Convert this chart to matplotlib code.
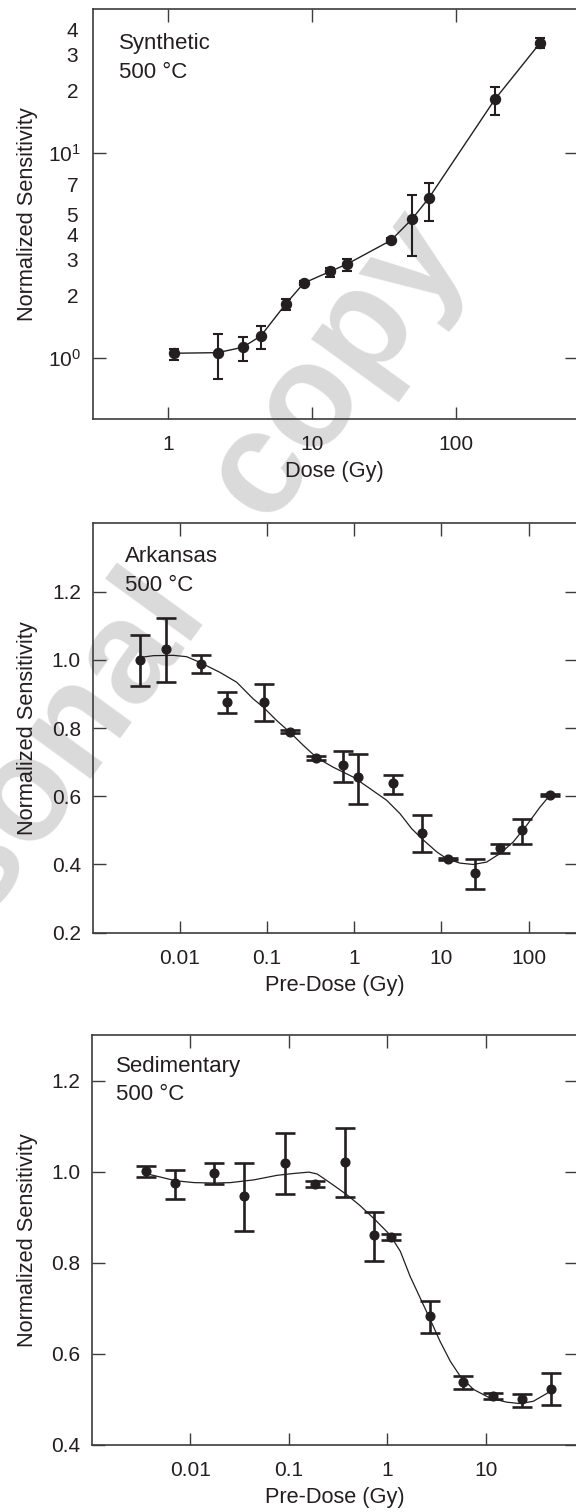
import numpy as np
import matplotlib.pyplot as plt
from matplotlib.ticker import NullLocator

plt.rcParams['font.family'] = ['Liberation Sans', 'DejaVu Sans']
plt.rcParams['mathtext.default'] = 'regular'

INK = '#231f20'
AXC = '#3c3c3c'
W, H = 576, 1512

# Synthetic, 500 C: sensitivity vs dose
syn_dose = [1.11, 2.22, 3.32, 4.43, 6.61, 8.81, 13.4, 17.6, 35.5, 49.6, 65.0, 187.5, 388]
syn_sens = [1.05, 1.057, 1.123, 1.276, 1.83, 2.31, 2.63, 2.86, 3.73, 4.73, 5.99, 18.2, 34.4]
syn_high = [1.098, 1.30, 1.267, 1.43, 1.93, 2.36, 2.73, 3.03, 3.85, 6.18, 7.14, 20.9, 36.2]
syn_low = [0.975, 0.79, 0.967, 1.098, 1.70, 2.26, 2.47, 2.63, 3.62, 3.13, 4.66, 15.2, 32.2]

# Arkansas, 500 C: sensitivity vs pre-dose
ark_dose = [0.00347, 0.00698, 0.0174, 0.035, 0.0925, 0.186, 0.367, 0.74, 1.10, 2.77,
            6.03, 11.9, 24.0, 47.3, 84.8, 177]
ark_sens = [1.000, 1.031, 0.989, 0.877, 0.875, 0.789, 0.712, 0.692, 0.656, 0.638,
            0.493, 0.416, 0.376, 0.449, 0.500, 0.604]
ark_high = [1.073, 1.121, 1.015, 0.906, 0.928, 0.794, 0.717, 0.732, 0.724, 0.662,
            0.545, 0.419, 0.417, 0.461, 0.532, 0.606]
ark_low = [0.924, 0.934, 0.960, 0.843, 0.821, 0.784, 0.707, 0.643, 0.578, 0.608,
           0.437, 0.413, 0.328, 0.434, 0.461, 0.602]
ark_fit_dose = [0.00356, 0.00497, 0.00841, 0.0120, 0.0171, 0.0289, 0.0450, 0.0697, 0.0908,
                0.129, 0.184, 0.261, 0.372, 0.575, 0.977, 1.43, 2.36, 3.35, 4.56, 5.94,
                8.83, 11.5, 16.3, 23.2, 33.0, 47.0, 66.7, 95.1, 135, 177]
ark_fit_sens = [1.007, 1.012, 1.013, 1.009, 0.992, 0.963, 0.934, 0.885, 0.861,
                0.822, 0.787, 0.749, 0.713, 0.685, 0.656, 0.627, 0.588, 0.549, 0.505, 0.476,
                0.437, 0.417, 0.404, 0.400, 0.407, 0.432, 0.466, 0.515, 0.568, 0.604]

# Sedimentary, 500 C
sed_dose = [0.00354, 0.00703, 0.0175, 0.035, 0.0923, 0.184, 0.371, 0.736, 1.09, 2.74,
            5.83, 11.8, 23.4, 46.5]
sed_sens = [1.0015, 0.975, 0.9965, 0.947, 1.020, 0.973, 1.022, 0.861, 0.857, 0.684,
            0.538, 0.508, 0.500, 0.524]
sed_high = [1.0125, 1.004, 1.018, 1.018, 1.085, 0.980, 1.095, 0.912, 0.8635, 0.717,
            0.551, 0.514, 0.511, 0.557]
sed_low = [0.988, 0.940, 0.972, 0.870, 0.952, 0.966, 0.945, 0.805, 0.850, 0.646,
           0.523, 0.500, 0.484, 0.487]
sed_fit_dose = [0.00366, 0.00500, 0.00710, 0.0109, 0.0173, 0.0256, 0.0442, 0.0762, 0.112,
                0.160, 0.194, 0.265, 0.391, 0.533, 0.757, 1.07, 1.36, 1.71, 2.16, 2.74,
                3.45, 4.37, 5.51, 7.52, 11.1, 16.4, 22.4, 30.5, 41.8, 48.8]
sed_fit_sens = [0.995, 0.988, 0.980, 0.976, 0.975, 0.976, 0.982, 0.992, 0.996,
                0.999, 0.995, 0.975, 0.949, 0.925, 0.894, 0.861, 0.825, 0.770, 0.723, 0.675,
                0.627, 0.584, 0.551, 0.522, 0.503, 0.494, 0.491, 0.496, 0.513, 0.525]

TICK_FS = 15
LAB_FS = 15.7
NOTE_FS = 16

fig = plt.figure(figsize=(W / 100, H / 100), dpi=100)


def add_px_axes(left, top, right, bottom):
    return fig.add_axes([left / W, 1 - bottom / H, (right - left) / W, (bottom - top) / H])


def style(ax, xticks, xlabels):
    ax.set_facecolor('none')
    for s in ax.spines.values():
        s.set_color(AXC)
        s.set_linewidth(1.2)
    ax.set_xscale('log')
    ax.set_xticks(xticks, labels=xlabels)
    ax.xaxis.set_minor_locator(NullLocator())
    ax.tick_params(which='major', direction='in', length=9, width=1.0, color=AXC,
                   top=True, right=True, labelsize=TICK_FS, labelcolor=INK)
    ax.tick_params(axis='x', pad=11.4)
    ax.tick_params(axis='y', pad=8.5)


def labels(ax, left, right, xlab, note, note_xy):
    ax.set_ylabel('Normalized Sensitivity', fontsize=LAB_FS, color=INK, va='center')
    ax.yaxis.set_label_coords((27.6 - left) / (right - left), 0.5)
    ax.set_xlabel(xlab, fontsize=LAB_FS, color=INK, va='baseline')
    ax.xaxis.set_label_coords(0.5, -58 / 410)
    x, y = note_xy
    fig.text(x / W, 1 - y / H, note, fontsize=NOTE_FS, color=INK, va='baseline')
    fig.text(x / W, 1 - (y + 28.5) / H, '500 °C', fontsize=NOTE_FS, color=INK, va='baseline')


def errbars(ax, x, y, low, high, ms, lw, cap):
    y = np.array(y)
    yerr = [y - np.array(low), np.array(high) - y]
    ax.errorbar(x, y, yerr=yerr, fmt='o', ms=ms, color=INK, ecolor=INK,
                elinewidth=lw, capsize=cap, capthick=lw, zorder=3)


# panel 1: Synthetic
ax1 = add_px_axes(92.6, 9.3, 577, 419.3)
style(ax1, [1, 10, 100], ['1', '10', '100'])
ax1.set_yscale('log')
ax1.set_xlim(0.3, 697)
ax1.set_ylim(0.5, 50)
ax1.set_yticks([1, 10], labels=['$10^{0}$', '$10^{1}$'])
ax1.set_yticks([2, 3, 4, 5, 7, 20, 30, 40],
               labels=['2', '3', '4', '5', '7', '2', '3', '4'], minor=True)
ax1.tick_params(axis='y', which='minor', left=False, right=False, labelleft=True,
                labelsize=TICK_FS, labelcolor=INK, pad=8.5)
ax1.plot(syn_dose, syn_sens, color=INK, lw=1.0, zorder=2)
errbars(ax1, syn_dose, syn_sens, syn_low, syn_high, 7.2, 1.5, 3.6)
labels(ax1, 92.6, 577, 'Dose (Gy)', 'Synthetic', (118.8, 49.3))

# panel 2: Arkansas
ax2 = add_px_axes(92.6, 523.3, 577, 932.7)
style(ax2, [0.01, 0.1, 1, 10, 100], ['0.01', '0.1', '1', '10', '100'])
ax2.set_xlim(0.001, 359)
ax2.set_ylim(0.2, 1.4)
ax2.set_yticks([0.2, 0.4, 0.6, 0.8, 1.0, 1.2])
ax2.plot(ark_fit_dose, ark_fit_sens, color=INK, lw=0.9, zorder=2)
errbars(ax2, ark_dose, ark_sens, ark_low, ark_high, 6.3, 1.9, 7.2)
labels(ax2, 92.6, 577, 'Pre-Dose (Gy)', 'Arkansas', (125, 562.3))

# panel 3: Sedimentary
ax3 = add_px_axes(91.9, 1035, 577, 1445)
style(ax3, [0.01, 0.1, 1, 10], ['0.01', '0.1', '1', '10'])
ax3.set_xlim(0.001, 84.7)
ax3.set_ylim(0.4, 1.3)
ax3.set_yticks([0.4, 0.6, 0.8, 1.0, 1.2])
ax3.plot(sed_fit_dose, sed_fit_sens, color=INK, lw=0.9, zorder=2)
errbars(ax3, sed_dose, sed_sens, sed_low, sed_high, 6.3, 1.9, 7.0)
labels(ax3, 91.9, 577, 'Pre-Dose (Gy)', 'Sedimentary', (115.8, 1071.7))

# watermark behind the axes
wm = dict(fontsize=105, fontweight='bold', color='#dadada', rotation=54,
          rotation_mode='anchor', ha='center', va='center', zorder=-1)
fig.text(336 / W, 1 - 365 / H, 'copy', **wm)
fig.text(-6 / W, 1 - 835 / H, 'Personal', **wm)

fig.savefig('out.png', dpi=100)
